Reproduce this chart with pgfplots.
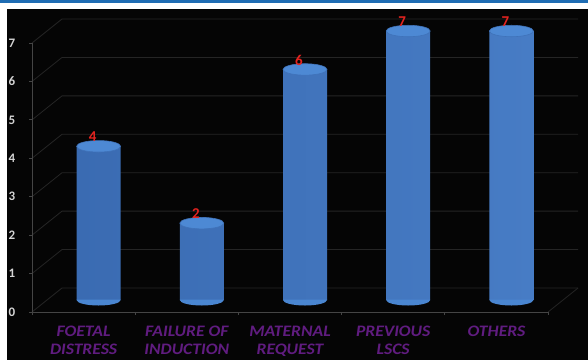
\documentclass[border=0pt]{standalone}
\usepackage{pgfplots}
\pgfplotsset{compat=1.18}
\usepackage{fontspec}
\setmainfont{Carlito}
\definecolor{bgblack}{HTML}{050505}
\definecolor{topblue}{HTML}{1F6DB4}
\definecolor{barmid}{HTML}{5795E0}
\definecolor{baredge}{HTML}{3A6BB2}
\definecolor{barright}{HTML}{477CC5}
\definecolor{barbottom}{HTML}{4A86D1}
\definecolor{bartop}{HTML}{4D89D4}
\definecolor{bartopdraw}{HTML}{3F72B9}
\definecolor{lblpurple}{HTML}{601C80}
\definecolor{numred}{HTML}{E3231F}
\definecolor{gridc}{HTML}{252525}
\definecolor{framec}{HTML}{454545}
\definecolor{ticklbl}{HTML}{D4D4D4}
\pgfdeclareplotmark{cylbot}{%
  \pgfpathmoveto{\pgfqpoint{-22pt}{0.5pt}}%
  \pgfpathlineto{\pgfqpoint{-22pt}{0pt}}%
  \pgfpatharc{180}{360}{22pt and 5.5pt}%
  \pgfpathlineto{\pgfqpoint{22pt}{0.5pt}}%
  \pgfpathclose
  \pgfusepathqfill}
\begin{document}
\begin{tikzpicture}
\fill[white] (0,0) rectangle (588pt,360pt);
\fill[topblue] (0,357pt) rectangle (588pt,360pt);
\fill[bgblack] (7pt,0) rectangle (588pt,351pt);
\begin{axis}[
  at={(47pt,60pt)}, anchor=south west,
  scale only axis, width=516pt, height=269pt,
  xmin=-0.5, xmax=4.5, ymin=0, ymax=7,
  clip=false,
  axis line style={draw=none},
  major tick length=0pt,
  ytick=\empty,
  xtick={0,...,4},
  xticklabels={{FOETAL\\DISTRESS},{FAILURE OF\\INDUCTION},{MATERNAL\\REQUEST},{PREVIOUS\\LSCS},{OTHERS}},
  x tick label style={align=center, anchor=north, inner sep=0pt, xshift=-15pt, yshift=-26pt, xscale=1.1,
    font=\fontsize{16}{18}\selectfont\bfseries\itshape, text=lblpurple},
  /pgf/number format/assume math mode=true,
]
\pgfplotsinvokeforeach{0,...,7}{
  \draw[gridc, line width=0.8pt] ([shift={(-15pt,-12pt)}]axis cs:-0.5,#1) -- ([shift={(15pt,12pt)}]axis cs:-0.5,#1) -- ([shift={(15pt,12pt)}]axis cs:4.5,#1);
  \draw[framec, line width=0.8pt] ([shift={(-18pt,-12pt)}]axis cs:-0.5,#1) -- ([shift={(-15pt,-12pt)}]axis cs:-0.5,#1);
  \node[font=\fontsize{13}{15}\selectfont\bfseries, text=ticklbl, anchor=center] at ([shift={(-35pt,-12pt)}]axis cs:-0.5,#1) {#1};
}
\draw[gridc, line width=0.8pt] ([shift={(-15pt,-12pt)}]axis cs:4.5,0) -- ([shift={(15pt,12pt)}]axis cs:4.5,0);
\draw[framec, line width=0.8pt] ([shift={(-15pt,-12pt)}]axis cs:-0.5,7) -- ([shift={(-15pt,-12pt)}]axis cs:-0.5,0) -- ([shift={(-15pt,-12pt)}]axis cs:4.5,0);
\pgfplotsinvokeforeach{-0.5,0.5,...,4.5}{
  \draw[framec, line width=0.8pt] ([shift={(-15pt,-12pt)}]axis cs:#1,0) -- ([shift={(-15pt,-15pt)}]axis cs:#1,0);
}
% cylinder bodies
\addplot[ybar, bar width=44pt, draw=none, left color=baredge, middle color=barmid, right color=barright]
  coordinates {(0,4) (1,2) (2,6) (3,7) (4,7)};
% bottom half ellipses
\addplot[only marks, mark=cylbot, mark options={draw=none, fill=barbottom}]
  coordinates {(0,0) (1,0) (2,0) (3,0) (4,0)};
% top ellipses with value labels
\addplot[only marks, mark=*, mark size=22pt, mark options={yscale=0.26, draw=bartopdraw, line width=0.6pt, fill=bartop},
  nodes near coords,
  every node near coord/.style={anchor=south, inner sep=0pt, xshift=-6pt, yshift=4pt,
    font=\fontsize{15}{17}\selectfont\bfseries, text=numred}]
  coordinates {(0,4) (1,2) (2,6) (3,7) (4,7)};
\end{axis}
\pgfresetboundingbox
\path[use as bounding box] (0,0) rectangle (588pt,360pt);
\end{tikzpicture}
\end{document}
